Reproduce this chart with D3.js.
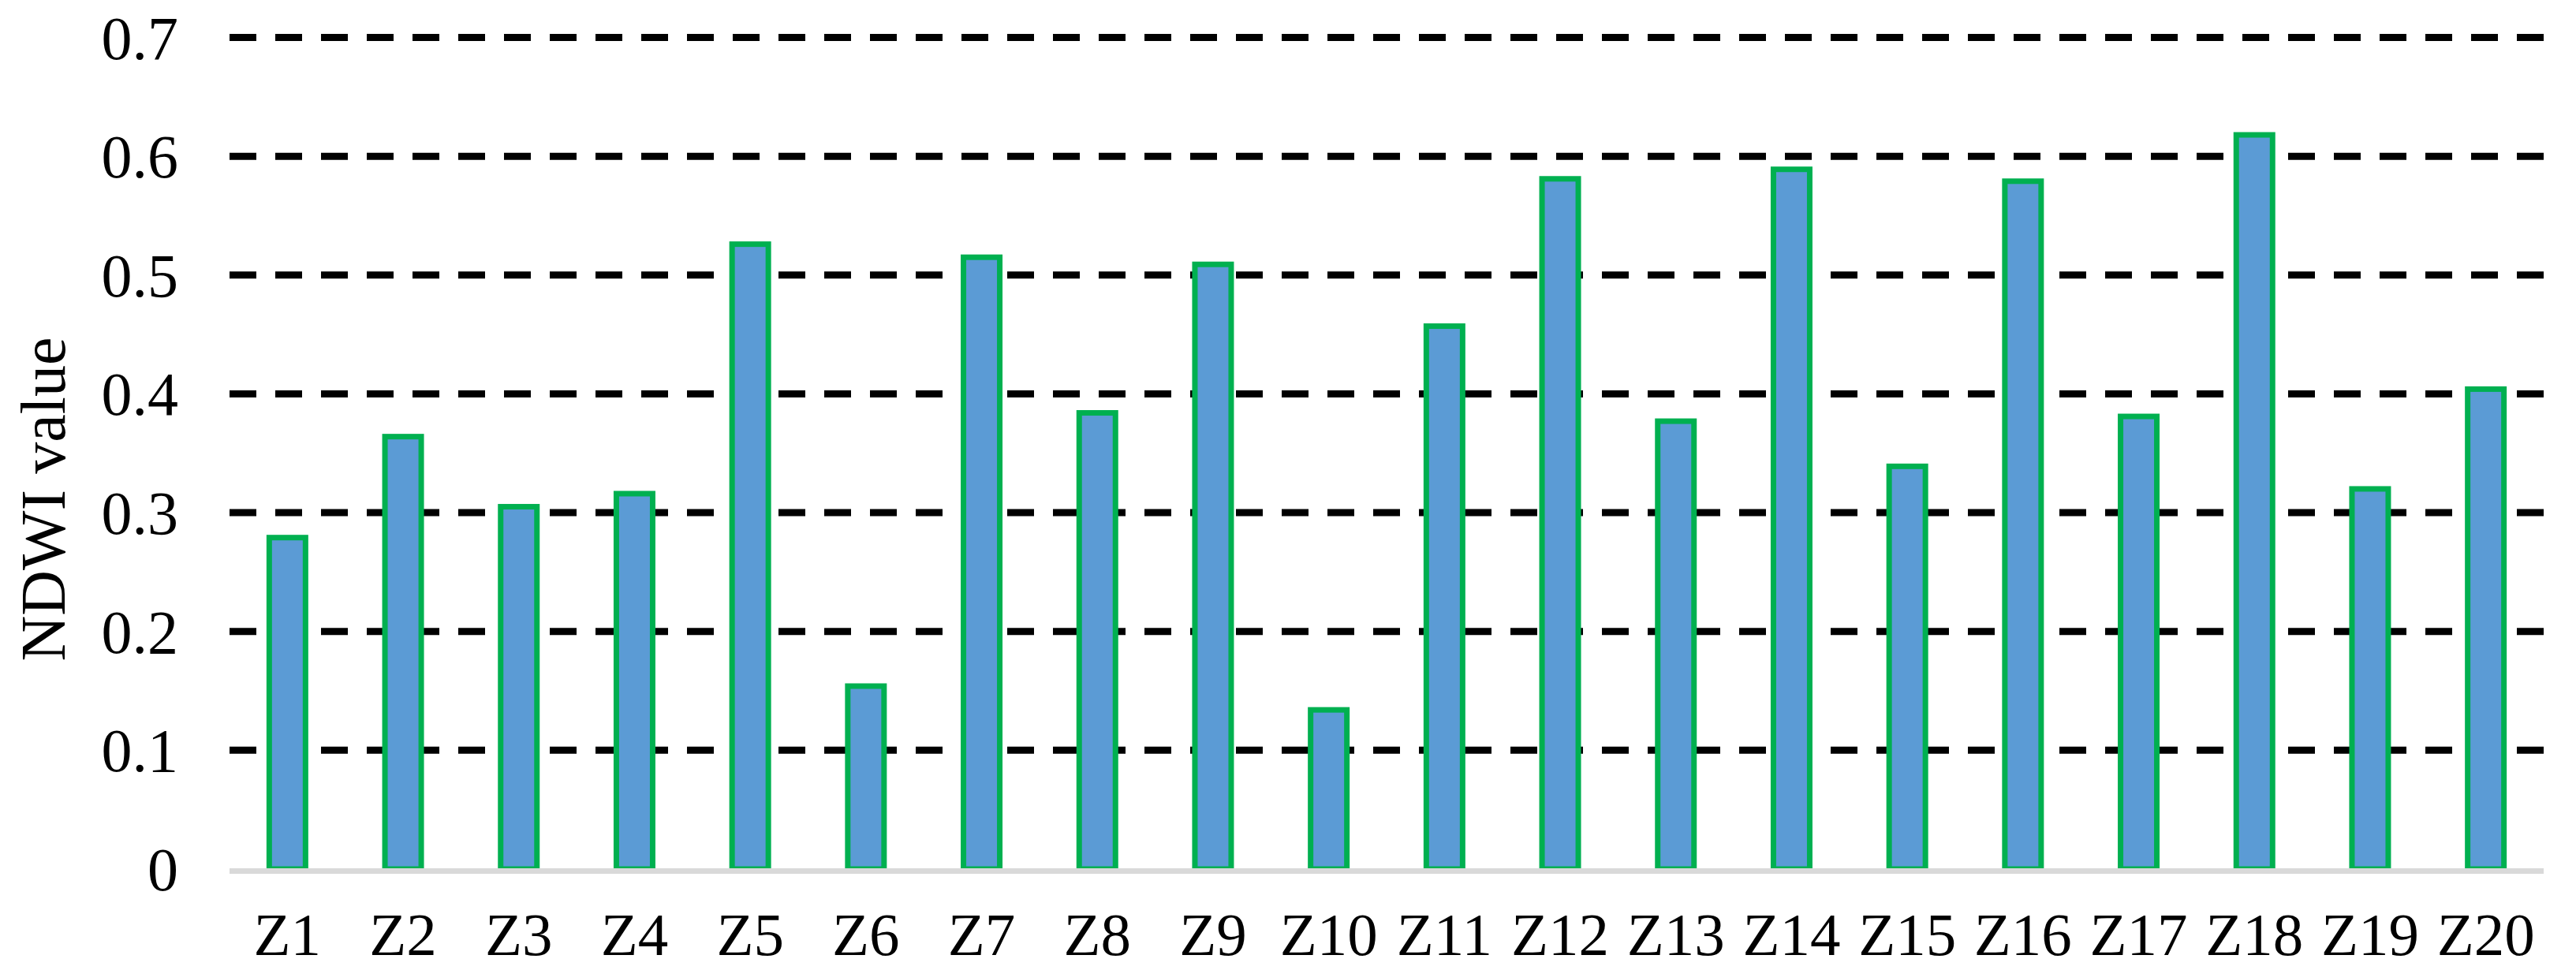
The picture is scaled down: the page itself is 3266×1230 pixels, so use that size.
<html>
<head>
    <meta charset="utf-8">
    <title>NDWI value</title>
    <script src="https://cdn.jsdelivr.net/npm/d3@7"></script>
    <style>
        body { margin: 0; background: #fff; }
        text { font-family: "Liberation Serif", "Times New Roman", serif; fill: #000; }
    </style>
</head>
<body>
    <svg id="chart"></svg>
    <script>
        // data
        const zones = ['Z1','Z2','Z3','Z4','Z5','Z6','Z7','Z8','Z9','Z10',
                       'Z11','Z12','Z13','Z14','Z15','Z16','Z17','Z18','Z19','Z20'];
        const ndwi = [0.279, 0.364, 0.305, 0.316, 0.526, 0.154, 0.515, 0.384, 0.509, 0.134,
                      0.457, 0.581, 0.377, 0.589, 0.339, 0.579, 0.381, 0.618, 0.320, 0.404];
        const yTicks = [0, 0.1, 0.2, 0.3, 0.4, 0.5, 0.6, 0.7];
        const yTitle = 'NDWI value';

        const W = 3266, H = 1230;
        const plotLeft = 291, plotRight = 3225, plotTop = 47.5, plotBottom = 1102;

        const svg = d3.select('#chart')
            .attr('width', W)
            .attr('height', H);

        svg.append('rect').attr('width', W).attr('height', H).attr('fill', '#fff');

        const x = d3.scaleBand()
            .domain(zones)
            .range([plotLeft, plotRight]);

        const y = d3.scaleLinear()
            .domain([0, 0.7])
            .range([plotBottom, plotTop]);

        // dashed gridlines (not the zero line)
        svg.append('g')
            .selectAll('line')
            .data(yTicks.filter(d => d > 0))
            .join('line')
            .attr('x1', plotLeft)
            .attr('x2', plotRight)
            .attr('y1', d => y(d))
            .attr('y2', d => y(d))
            .attr('stroke', '#000')
            .attr('stroke-width', 9)
            .attr('stroke-dasharray', '34 24');

        // bars
        const barW = 46;
        svg.append('g')
            .selectAll('rect')
            .data(ndwi)
            .join('rect')
            .attr('x', (d, i) => x(zones[i]) + x.bandwidth() / 2 - barW / 2)
            .attr('y', d => y(d))
            .attr('width', barW)
            .attr('height', d => y(0) - y(d))
            .attr('fill', '#5B9BD5')
            .attr('stroke', '#00B050')
            .attr('stroke-width', 7);

        // category axis line
        svg.append('line')
            .attr('x1', plotLeft)
            .attr('x2', plotRight)
            .attr('y1', y(0) + 2.5)
            .attr('y2', y(0) + 2.5)
            .attr('stroke', '#D9D9D9')
            .attr('stroke-width', 7);

        // y axis labels
        const yAxis = d3.axisLeft(y)
            .tickValues(yTicks)
            .tickFormat(d => d === 0 ? '0' : d3.format('.1f')(d))
            .tickSize(0)
            .tickPadding(65);
        const gy = svg.append('g')
            .attr('transform', `translate(${plotLeft},0)`)
            .call(yAxis);
        gy.select('.domain').remove();
        gy.selectAll('text')
            .attr('font-family', '"Liberation Serif", "Times New Roman", serif')
            .attr('font-size', 78)
            .attr('dy', '0.34em');

        // x axis labels
        const xAxis = d3.axisBottom(x)
            .tickSize(0)
            .tickPadding(0);
        const gx = svg.append('g')
            .attr('transform', 'translate(0,1211)')
            .call(xAxis);
        gx.select('.domain').remove();
        gx.selectAll('text')
            .attr('font-family', '"Liberation Serif", "Times New Roman", serif')
            .attr('font-size', 77)
            .attr('y', 0)
            .attr('dy', 0);

        // axis title
        svg.append('text')
            .attr('transform', 'translate(82,633) rotate(-90)')
            .attr('text-anchor', 'middle')
            .attr('font-size', 80)
            .text(yTitle);
    </script>
</body>
</html>
